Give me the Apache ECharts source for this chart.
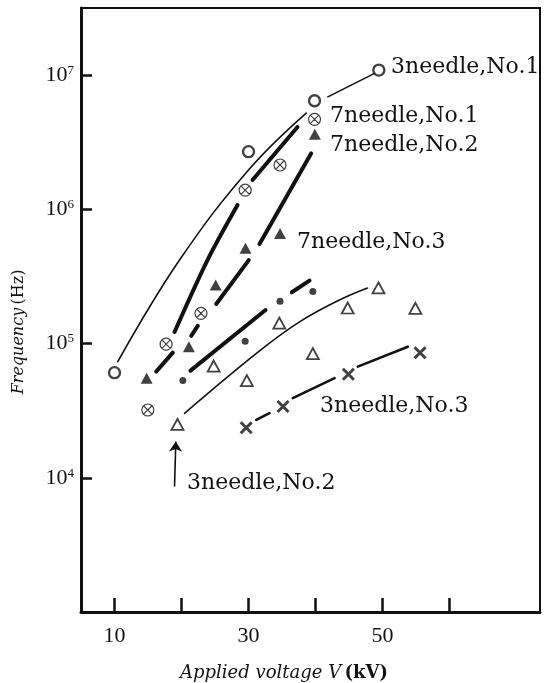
<!DOCTYPE html>
<html>
<head>
<meta charset="utf-8">
<script src="https://cdn.jsdelivr.net/npm/echarts@6/dist/echarts.min.js"></script>
<style>
  html, body { margin: 0; padding: 0; background: #fff; }
  #chart { width: 544px; height: 683px; }
</style>
</head>
<body>
<div id="chart"></div>
<script>
// Axis ticks and labels
const xTickValues = [10, 20, 30, 40, 50, 60];
const xLabelValues = [10, 30, 50];
const yTickValues = [1e4, 1e5, 1e6, 1e7];

// Measured points: [applied voltage kV, frequency Hz]
const needle3No1 = [[10.0, 60700], [30.0, 2690000], [39.85, 6440000], [49.45, 10900000]];
const needle7No1 = [[14.97, 32000], [17.7, 99000], [22.9, 168000], [29.5, 1390000], [34.7, 2140000], [39.85, 4680000]];
const needle7No2 = [[14.8, 55200], [21.1, 94800], [25.1, 273000], [29.55, 513000], [34.7, 661000], [39.9, 3630000]];
const dotSeries = [[20.2, 53000], [29.5, 104000], [34.7, 207000], [39.6, 244000]];
const needle3No2 = [[19.4, 25000], [24.8, 68000], [29.75, 53000], [34.6, 142000], [39.6, 84000], [44.8, 184000], [49.4, 260000], [54.9, 183000]];
const needle3No3 = [[29.66, 23600], [35.15, 34000], [44.9, 59000], [55.6, 85500]];

// Fitted curves, each split into the pieces drawn between markers
const curve3No1 = [
  [[10.49, 73300], [19.7, 418800], [30.0, 1963000], [38.61, 5212000]],
  [[41.84, 6887000], [48.81, 10304000]]
];
const curve7No1 = [
  [[18.96, 121900], [23.88, 418800], [28.36, 1076000]],
  [[30.6, 1652000], [37.31, 4102000]]
];
const curve7No2 = [
  [[16.22, 61800], [18.7, 85500]],
  [[21.45, 114000], [22.43, 135300]],
  [[25.18, 197200], [30.04, 418800]],
  [[31.64, 552100], [39.36, 2612000]]
];
const curveDot = [
  [[21.34, 62800], [32.54, 177800]],
  [[36.46, 241000], [39.1, 294000]]
];
const curve3No2 = [
  [[20.45, 30200], [31.64, 88100], [37.61, 145000], [43.58, 211300], [47.76, 259500]]
];
const curve3No3 = [
  [[31.15, 27000], [33.13, 30300]],
  [[36.61, 39200], [42.84, 55200]],
  [[46.31, 67300], [53.78, 94800]]
];

// Arrow pointing at the first 3needle,No.2 point
const arrow3No2 = [[18.96, 8600], [19.15, 18600]];

const INK = '#111';
const SERIF = '"Liberation Serif", "Times New Roman", serif';
const NOTE_FONT = '"DejaVu Serif", serif';
const SYM_CIRCLE_CROSS = 'path://M0,10A10,10,0,1,1,20,10A10,10,0,1,1,0,10ZM3,3L17,17M17,3L3,17';
const SYM_X = 'path://M0,0L10,10M10,0L0,10';

function curveSeries(segments, width, smooth) {
  return segments.map(seg => ({
    type: 'line',
    data: seg,
    symbol: 'none',
    showSymbol: false,
    smooth: seg.length > 2 ? smooth : false,
    lineStyle: { color: INK, width: width, cap: 'round' },
    silent: true,
    z: 2
  }));
}

function pointSeries(data, symbol, size, itemStyle, extra) {
  return Object.assign({
    type: 'scatter',
    data: data,
    symbol: symbol,
    symbolSize: size,
    itemStyle: itemStyle,
    silent: true,
    z: 5
  }, extra || {});
}

const noteStyle = (text) => ({
  text: text,
  font: '22px ' + NOTE_FONT,
  fill: INK,
  align: 'left',
  verticalAlign: 'middle'
});

const chart = echarts.init(document.getElementById('chart'), null, { renderer: 'canvas' });

chart.setOption({
  animation: false,
  backgroundColor: '#fff',
  grid: {
    left: 81, right: 4, top: 8, bottom: 71,
    show: true, borderColor: INK, borderWidth: 2
  },
  xAxis: {
    type: 'value',
    min: 5, max: 73.5,
    splitLine: { show: false },
    axisLine: { show: true, lineStyle: { color: INK, width: 3 } },
    axisTick: { show: true, inside: true, length: 14, lineStyle: { color: INK, width: 2.5 }, customValues: xTickValues },
    axisLabel: { color: INK, fontFamily: SERIF, fontSize: 22, margin: 13, customValues: xLabelValues }
  },
  yAxis: {
    type: 'log',
    logBase: 10,
    min: 1000, max: 31622777,
    splitLine: { show: false },
    axisLine: { show: true, lineStyle: { color: INK, width: 3 } },
    axisTick: { show: true, inside: true, length: 11, lineStyle: { color: INK, width: 2.5 }, customValues: yTickValues },
    axisLabel: {
      color: INK,
      margin: 7,
      customValues: yTickValues,
      formatter: v => '{n|10}{s|' + Math.round(Math.log10(v)) + '}',
      rich: {
        n: { fontFamily: SERIF, fontSize: 22, color: INK, lineHeight: 22 },
        s: { fontFamily: SERIF, fontSize: 13, color: INK, verticalAlign: 'top' }
      }
    }
  },
  graphic: [
    { type: 'text', x: 391, y: 67, style: noteStyle('3needle,No.1') },
    { type: 'text', x: 330, y: 116, style: noteStyle('7needle,No.1') },
    { type: 'text', x: 330, y: 145, style: noteStyle('7needle,No.2') },
    { type: 'text', x: 297, y: 242, style: noteStyle('7needle,No.3') },
    { type: 'text', x: 320, y: 406, style: noteStyle('3needle,No.3') },
    { type: 'text', x: 187, y: 483, style: noteStyle('3needle,No.2') },
    {
      type: 'text', x: 284, y: 673,
      style: {
        text: '{i|Applied voltage V} {b|(kV)}',
        align: 'center', verticalAlign: 'middle',
        rich: {
          i: { font: 'italic 18px "DejaVu Serif", serif', fill: INK, color: INK },
          b: { font: 'bold 18px "DejaVu Serif", serif', fill: INK, color: INK }
        }
      }
    },
    {
      type: 'text', x: 19, y: 332, rotation: Math.PI / 2,
      style: {
        text: '{i|Frequency} {b|(Hz)}',
        align: 'center', verticalAlign: 'middle',
        rich: {
          i: { font: 'italic 16px "DejaVu Serif", serif', fill: INK, color: INK },
          b: { font: '16px "DejaVu Serif", serif', fill: INK, color: INK }
        }
      }
    }
  ],
  series: [
    ...curveSeries(curve3No1, 1.6, 0.4),
    ...curveSeries(curve7No1, 4, 0.3),
    ...curveSeries(curve7No2, 4, 0.3),
    ...curveSeries(curveDot, 4, 0.3),
    ...curveSeries(curve3No2, 1.6, 0.4),
    ...curveSeries(curve3No3, 2.6, 0.3),
    pointSeries(needle3No1, 'circle', 11, { color: '#fff', borderColor: INK, borderWidth: 2.4 }),
    pointSeries(needle7No1, SYM_CIRCLE_CROSS, 12, { color: 'rgba(255,255,255,0)', borderColor: INK, borderWidth: 1.2 }),
    pointSeries(needle7No2, 'triangle', [12, 11], { color: INK }),
    pointSeries(dotSeries, 'circle', 7, { color: INK }),
    pointSeries(needle3No2, 'triangle', [12, 11], { color: '#fff', borderColor: INK, borderWidth: 1.8 }, {
      markLine: {
        silent: true,
        symbol: ['none', 'arrow'],
        symbolSize: 10,
        label: { show: false },
        lineStyle: { color: INK, width: 1.6, type: 'solid' },
        data: [[{ coord: arrow3No2[0] }, { coord: arrow3No2[1] }]]
      }
    }),
    pointSeries(needle3No3, SYM_X, 11, { color: 'rgba(255,255,255,0)', borderColor: INK, borderWidth: 3 })
  ]
});
</script>
</body>
</html>
